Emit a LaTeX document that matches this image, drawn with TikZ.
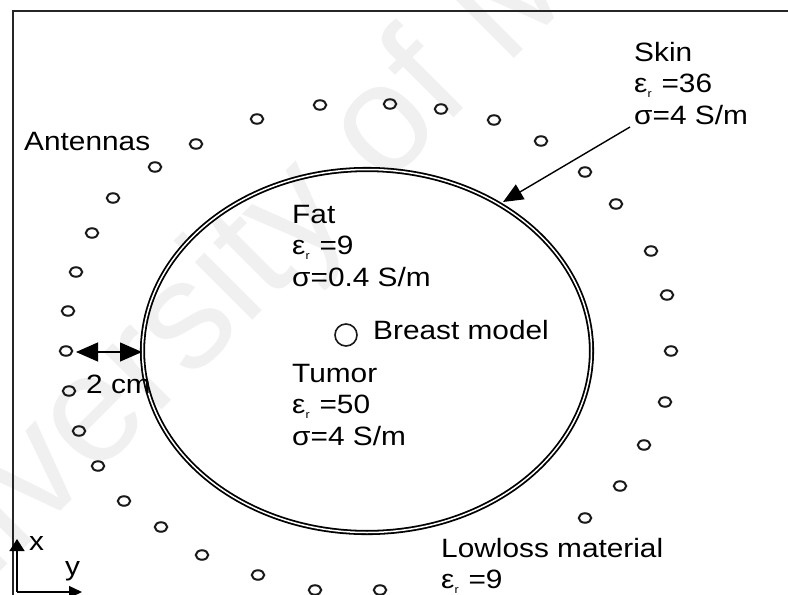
\documentclass[tikz,border=0pt]{standalone}
\usepackage{fontspec}
\setmainfont{Liberation Sans}
\usetikzlibrary{arrows.meta,shapes.geometric}
\newcommand{\er}[1]{ε\raisebox{-0.3ex}{\fontsize{11}{11}\selectfont r}\,\,=#1}
\newcommand{\sg}[1]{σ=#1}
\tikzset{
 x=1pt,y=-1pt,
 ant/.style={ellipse,draw=black!90,line width=2pt,minimum width=12.5pt,minimum height=9.5pt,inner sep=0pt},
 lbl/.style={anchor=north west,inner sep=0pt,align=left,font=\fontsize{26.5}{31.5}\selectfont,text=black,xscale=1.125},
 wm/.style={text=black!6,font=\fontsize{154}{154}\selectfont,rotate=45},
 tipb/.style={-{Triangle[length=20pt,width=17pt]},line width=1.4pt},
 dbl/.style={{Triangle[length=22pt,width=19pt]}-{Triangle[length=22pt,width=19pt]},line width=1.2pt},
}
\begin{document}
\begin{tikzpicture}
\useasboundingbox (0,0) rectangle (788,595);
\node[wm] (wmark) at (208,308) {University of M};
% frame
\coordinate (fa) at (13,595); \coordinate (fb) at (13,11); \coordinate (fc) at (788,11);
\draw[line width=1.8pt,black!85] (fa) -- (fb) -- (fc);
% breast
\node[ellipse,draw=black,double,double distance=1.5pt,line width=1.8pt,minimum width=449pt,minimum height=363pt,inner sep=0pt] (breast) at (367,351) {};
% antennas
\foreach \i/\p in {1/{66,351},2/{69,391},3/{79,431},4/{98,466},5/{124,501},6/{161,527},7/{202,555},8/{258,575},9/{315,590},10/{380,590},11/{68,311},12/{76,272},13/{92,233},14/{113,198},15/{155,167},16/{196,144},17/{257,119},18/{320,105},19/{390,104},20/{441,109},21/{494,120},22/{541,141},23/{585,172},24/{616,204},25/{651,251},26/{667,295},27/{671,351},28/{665,402},29/{644,445},30/{620,486},31/{585,518}}{
  \node[ant] (a\i) at (\p) {};
}
\node[circle,draw=black!90,line width=1.6pt,minimum size=22pt,inner sep=0pt] (tumor) at (346,335) {};
% labels
\node[lbl] (antennas) at (24,132) {Antennas};
\node[lbl] (skin) at (634,42) {Skin\\\er{36}\\\sg{4 S/m}};
\node[lbl] (fat) at (292,205) {Fat\\\er{9}\\\sg{0.4 S/m}};
\node[lbl] (bm) at (373,320) {Breast model};
\node[lbl] (tum) at (292,364) {Tumor\\\er{50}\\\sg{4 S/m}};
\node[lbl] (low) at (441,538) {Lowloss material\\\er{9}};
\node[lbl] (two) at (86,375) {2 cm};
% arrows
\coordinate (sk) at (630,127);
\coordinate (skt) at (503,202);
\draw[tipb,black] (sk) -- (skt);
\coordinate (d1) at (76,352); \coordinate (d2) at (142,352);
\draw[dbl,black] (d1) -- (d2);
% axes
\coordinate (o) at (17,592); \coordinate (ax) at (17,539); \coordinate (ay) at (82,592);
\draw[-{Triangle[length=12pt,width=15pt]},line width=1.4pt] (o) -- (ax);
\draw[-{Triangle[length=13pt,width=12pt]},line width=1.4pt] (o) -- (ay);
\node[lbl] (xl) at (29,536) {x};
\node[lbl] (yl) at (65,561) {y};
\end{tikzpicture}
\end{document}
